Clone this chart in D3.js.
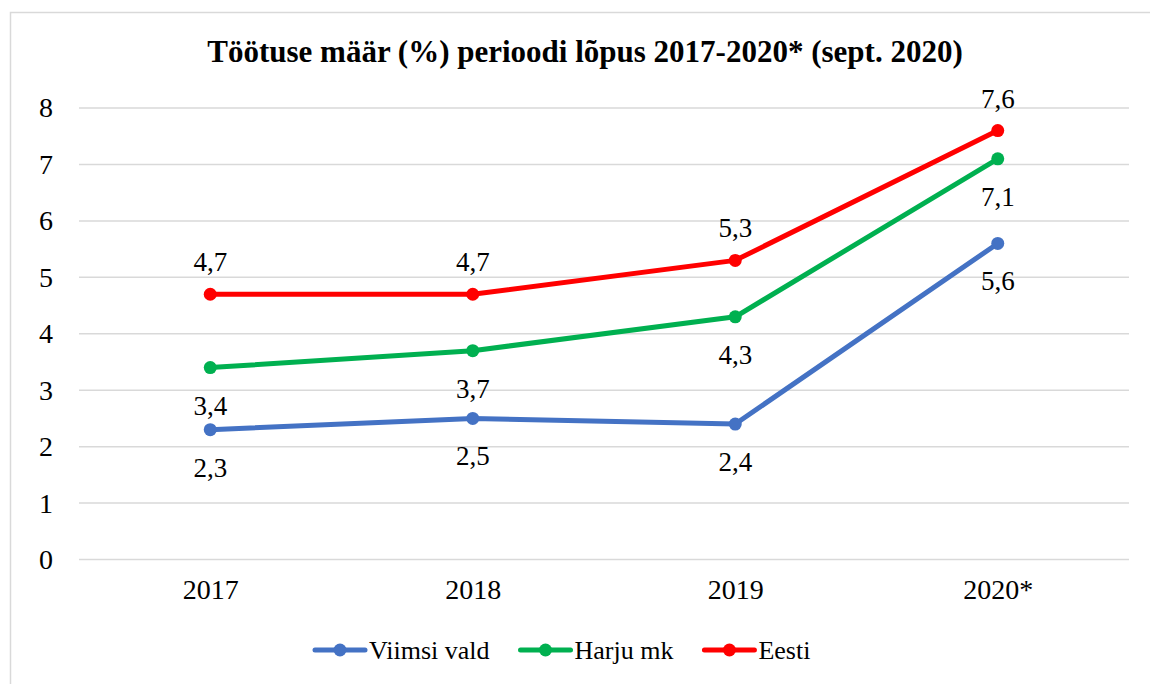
<!DOCTYPE html>
<html>
<head>
<meta charset="utf-8">
<script src="https://cdn.jsdelivr.net/npm/d3@7"></script>
<style>
  body { margin: 0; background: #fff; }
  svg { display: block; }
</style>
</head>
<body>
<svg id="chart" width="1150" height="684"></svg>
<script>
// data
let years = ["2017", "2018", "2019", "2020*"];
let seriesNames = ["Viimsi vald", "Harju mk", "Eesti"];
let viimsi = [2.3, 2.5, 2.4, 5.6];
let harju = [3.4, 3.7, 4.3, 7.1];
let eesti = [4.7, 4.7, 5.3, 7.6];
let yTicks = [0, 1, 2, 3, 4, 5, 6, 7, 8];

let colors = ["#4472C4", "#00B050", "#FF0000"];
let labelPos = ["below", "below", "above"];
let allSeries = [viimsi, harju, eesti];
let serif = "'Liberation Serif'";

let chart = d3.select("#chart");

// outer border (cut off at right/bottom like the picture)
chart.append("rect")
    .attr("x", 10.5).attr("y", 12.5)
    .attr("width", 1160).attr("height", 700)
    .attr("fill", "none")
    .attr("stroke", "#D9D9D9")
    .attr("stroke-width", 1.5);

//title
chart.append("text")
    .attr("x", 585)
    .attr("y", 62)
    .attr("text-anchor", "middle")
    .style("font-family", serif)
    .style("font-size", "31px")
    .style("font-weight", "bold")
    .text("Töötuse määr (%) perioodi lõpus 2017-2020* (sept. 2020)");

//x,y scales
let x = d3.scalePoint()
    .domain(years)
    .range([79, 1129])
    .padding(0.5);

let y = d3.scaleLinear()
    .domain([0, 8])
    .range([559.5, 108]);

//gridlines
chart.append("g")
    .selectAll("line")
    .data(yTicks)
    .enter()
    .append("line")
        .attr("x1", 79)
        .attr("x2", 1129)
        .attr("y1", d => y(d))
        .attr("y2", d => y(d))
        .attr("stroke", "#D9D9D9")
        .attr("stroke-width", 1.5);

//y axis labels
let yAxis = chart.append("g")
    .attr("transform", "translate(60,0)")
    .call(d3.axisLeft(y).tickValues(yTicks).tickSize(0).tickPadding(7));
yAxis.select(".domain").remove();
yAxis.selectAll("text")
    .style("font-family", serif)
    .style("font-size", "28px")
    .attr("fill", "#000");

//x axis labels
let xAxis = chart.append("g")
    .attr("transform", "translate(0," + 559.5 + ")")
    .call(d3.axisBottom(x).tickSize(0).tickPadding(20));
xAxis.select(".domain").remove();
xAxis.selectAll("text")
    .style("font-family", serif)
    .style("font-size", "28px")
    .attr("fill", "#000");

let line = d3.line()
    .x((d, i) => x(years[i]))
    .y(d => y(d));

//lines, markers and labels
allSeries.forEach(function(vals, s) {
    let g = chart.append("g");
    g.append("path")
        .datum(vals)
        .attr("d", line)
        .attr("fill", "none")
        .attr("stroke", colors[s])
        .attr("stroke-width", 5)
        .attr("stroke-linejoin", "round")
        .attr("stroke-linecap", "round");

    g.selectAll("circle")
        .data(vals)
        .enter()
        .append("circle")
            .attr("cx", (d, i) => x(years[i]))
            .attr("cy", d => y(d))
            .attr("r", 6.5)
            .attr("fill", colors[s]);

    g.selectAll("text")
        .data(vals)
        .enter()
        .append("text")
            .attr("x", (d, i) => x(years[i]))
            .attr("y", d => labelPos[s] == "above" ? y(d) - 23 : y(d) + 47)
            .attr("text-anchor", "middle")
            .style("font-family", serif)
            .style("font-size", "27px")
            .text(d => String(d).replace(".", ","));
});

//legend
let legend = chart.append("g");
let lx = 315;
seriesNames.forEach(function(name, s) {
    legend.append("line")
        .attr("x1", lx).attr("x2", lx + 50)
        .attr("y1", 650).attr("y2", 650)
        .attr("stroke", colors[s])
        .attr("stroke-width", 5)
        .attr("stroke-linecap", "round");
    legend.append("circle")
        .attr("cx", lx + 25).attr("cy", 650)
        .attr("r", 6.5)
        .attr("fill", colors[s]);
    let t = legend.append("text")
        .attr("x", lx + 54)
        .attr("y", 659)
        .style("font-family", serif)
        .style("font-size", "26px")
        .text(name);
    lx = lx + 54 + t.node().getComputedTextLength() + 31;
});
</script>
</body>
</html>
